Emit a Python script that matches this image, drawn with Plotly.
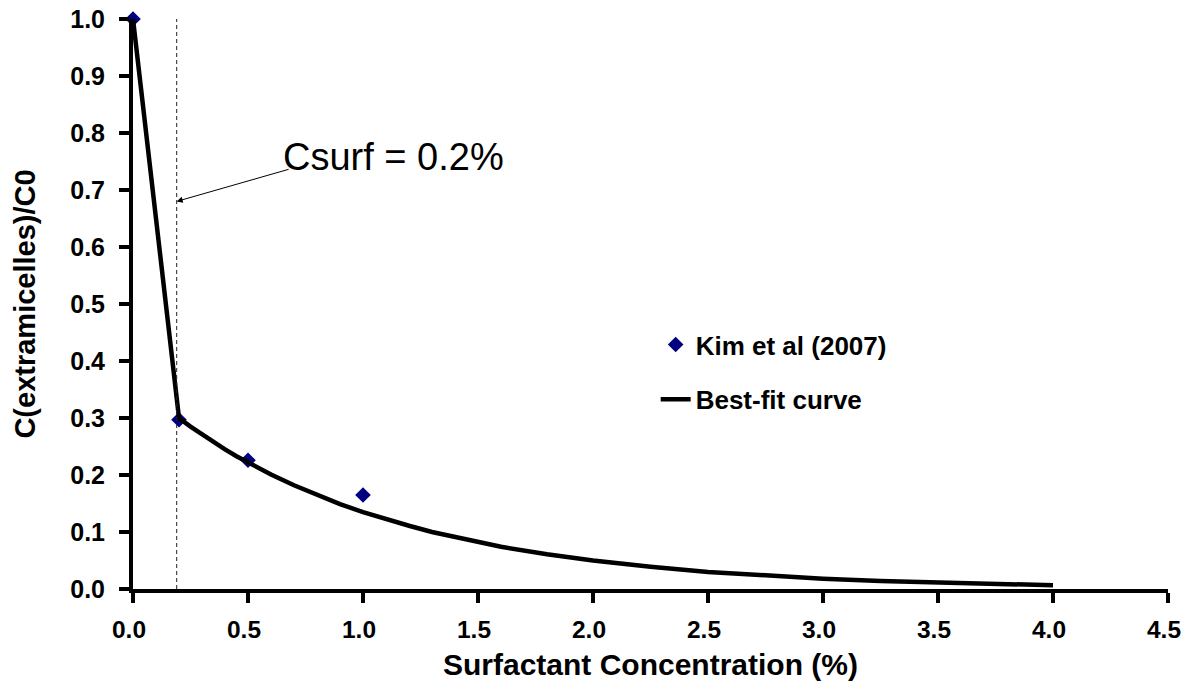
import plotly.graph_objects as go

# Data
obs_x = [0.0, 0.2, 0.5, 1.0]
obs_y = [1.0, 0.297, 0.226, 0.165]

fit_x = [0.0, 0.2, 0.25, 0.3, 0.35, 0.4, 0.45, 0.5, 0.6, 0.7, 0.8, 0.9, 1.0, 1.1,
         1.2, 1.3, 1.4, 1.5, 1.6, 1.8, 2.0, 2.25, 2.5, 2.75, 3.0, 3.25, 3.5,
         3.75, 4.0]
fit_y = [1.0, 0.30, 0.285, 0.271, 0.258, 0.245, 0.233, 0.222, 0.201, 0.182, 0.165,
         0.149, 0.135, 0.122, 0.111, 0.100, 0.091, 0.082, 0.074, 0.061, 0.050,
         0.039, 0.030, 0.024, 0.018, 0.014, 0.011, 0.0085, 0.0066]

csurf_x = 0.19
annot_text = "Csurf = 0.2%"
x_ticks = [0.0, 0.5, 1.0, 1.5, 2.0, 2.5, 3.0, 3.5, 4.0, 4.5]
y_ticks = [0.0, 0.1, 0.2, 0.3, 0.4, 0.5, 0.6, 0.7, 0.8, 0.9, 1.0]

FONT = "Liberation Sans, Arial, sans-serif"

fig = go.Figure()
fig.add_trace(go.Scatter(
    x=obs_x, y=obs_y, mode="markers", name="Kim et al (2007)",
    marker=dict(symbol="diamond", size=12, color="#000080"),
    cliponaxis=False, legendgroup="a",
))
fig.add_trace(go.Scatter(
    x=fit_x, y=fit_y, mode="lines", name="Best-fit curve",
    line=dict(color="black", width=4.5),
    cliponaxis=False, legendgroup="b",
))

fig.add_shape(type="line", xref="x", yref="y", x0=csurf_x, x1=csurf_x, y0=0, y1=1.0,
              line=dict(color="#222222", width=1, dash="4px,3px"))

fig.add_annotation(x=csurf_x, y=0.68, ax=0.683, ay=0.737, axref="x", ayref="y",
                   xref="x", yref="y", text="", showarrow=True,
                   arrowhead=2, arrowsize=1.2, arrowwidth=1, arrowcolor="black")
fig.add_annotation(x=0.643, y=0.758, xref="x", yref="y", text=annot_text,
                   showarrow=False, xanchor="left", yanchor="middle",
                   font=dict(family=FONT, size=38, color="black"))

# page body has an 8px margin on every side, so the figure is 16px smaller than the window
fig.update_layout(
    width=1173, height=678,
    margin=dict(l=125, r=13, t=11, b=97, autoexpand=False),
    paper_bgcolor="white", plot_bgcolor="white",
    font=dict(family=FONT, color="black"),
    showlegend=True,
    legend=dict(x=0.505, y=0.47, xanchor="left", yanchor="top",
                font=dict(family=FONT, size=26, color="black", weight="bold"),
                bgcolor="rgba(0,0,0,0)", tracegroupgap=18, traceorder="grouped"),
    xaxis=dict(range=[0, 4.5], tickvals=x_ticks, tickformat=".1f", automargin=False,
               showgrid=False, zeroline=False, showline=True, linecolor="black",
               linewidth=4, ticks="outside", ticklen=10, tickwidth=4, tickcolor="black",
               ticklabelstandoff=6, ticklabeloverflow="allow", ticklabelshift=-4,
               tickfont=dict(family=FONT, size=24.5, color="black", weight="bold"),
               title=dict(text="Surfactant Concentration (%)", standoff=13,
                          font=dict(family=FONT, size=30, color="black", weight="bold"))),
    yaxis=dict(range=[0, 1.0], tickvals=y_ticks, tickformat=".1f", automargin=False,
               showgrid=False, zeroline=False, showline=True, linecolor="black",
               linewidth=4, ticks="outside", ticklen=10, tickwidth=4, tickcolor="black",
               ticklabelstandoff=9, ticklabeloverflow="allow",
               tickfont=dict(family=FONT, size=25, color="black", weight="bold"),
               title=dict(text="C(extramicelles)/C0", standoff=27,
                          font=dict(family=FONT, size=29, color="black", weight="bold"))),
)

fig.write_html("out.html")
